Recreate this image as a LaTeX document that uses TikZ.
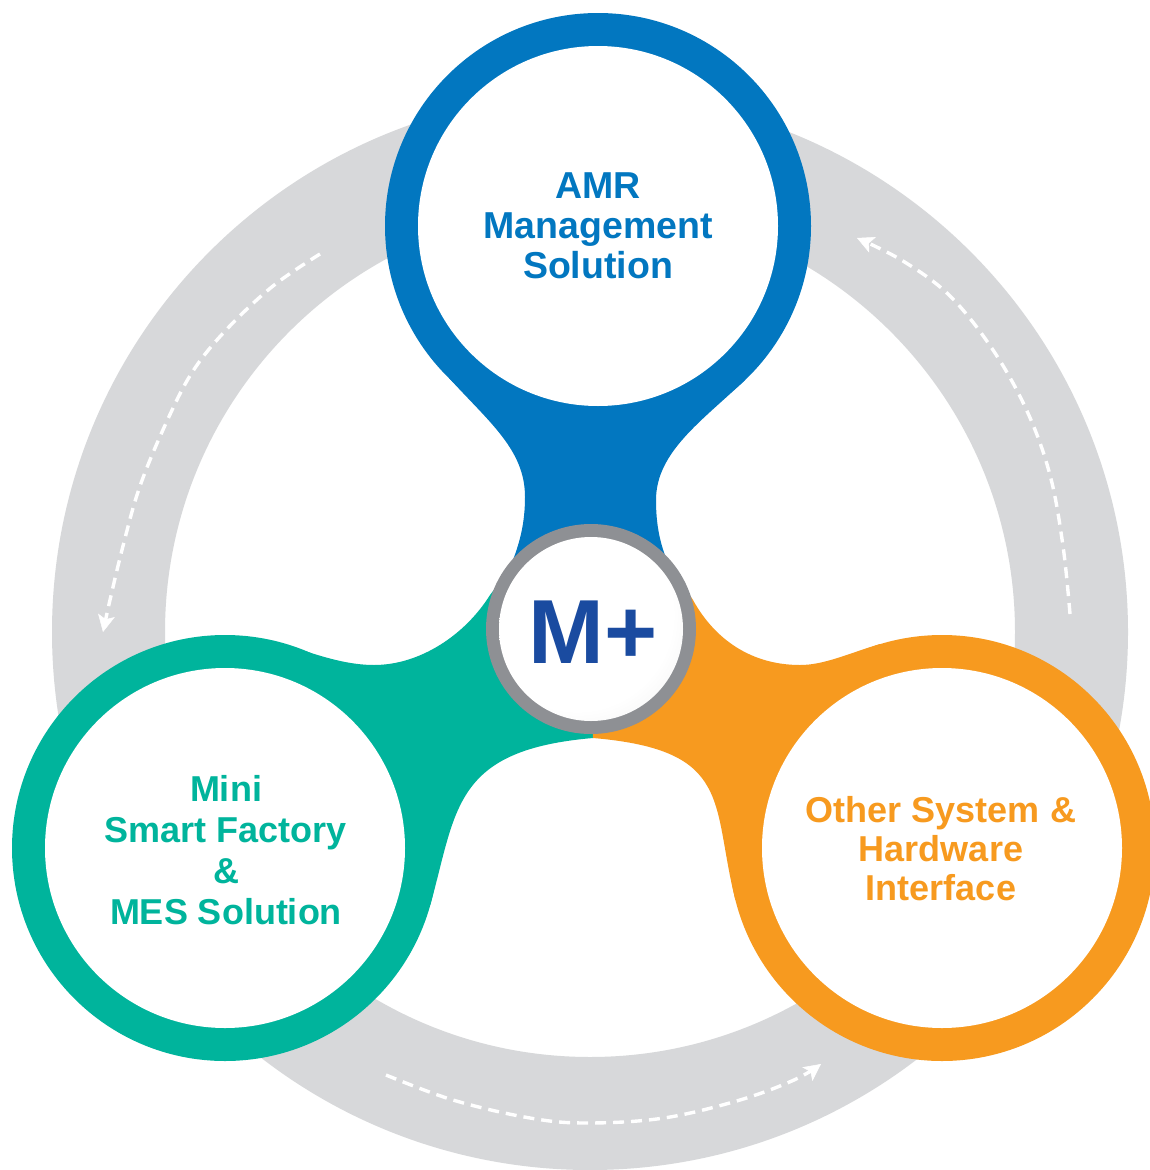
\documentclass[tikz,border=0pt]{standalone}
\usepackage{fontspec}
\setmainfont{Liberation Sans}
\usetikzlibrary{arrows.meta}
\definecolor{ringgray}{HTML}{D7D8DA}
\definecolor{amrblue}{HTML}{0277C0}
\definecolor{mesteal}{HTML}{00B49C}
\definecolor{othorange}{HTML}{F79A1F}
\definecolor{mgray}{HTML}{8E9094}
\definecolor{mblue}{HTML}{1A4BA0}
\pgfdeclareradialshading{mplusshade}{\pgfpoint{-8bp}{8bp}}{color(0bp)=(white); color(26bp)=(white); color(50bp)=(black!13)}
\begin{document}
\begin{tikzpicture}[x=1pt,y=-1pt,
  flow/.style={white, line width=3.4pt, dash pattern=on 11pt off 7pt,
    -{Stealth[length=17pt,width=17pt,inset=4pt,fill=white,line width=0.5pt]}},
  lbl/.style={anchor=base, font=\fontsize{36}{40}\selectfont\bfseries, inner sep=0pt},
]
\useasboundingbox (0,0) rectangle (1150,1170);
\fill[white] (0,0) rectangle (1150,1170);

% grey cycle ring
\fill[ringgray, even odd rule] (590,632) circle[radius=538pt] (590,632) circle[radius=425pt];

% dashed flow arrows
\draw[flow] plot[smooth, tension=0.6] coordinates {(320,254) (273,286) (227,329) (193,371) (167,421) (140,486) (123,546) (110,600) (103,632)};
\draw[flow] plot[smooth, tension=0.6] coordinates {(1070,614) (1063,546) (1050,475) (1027,411) (993,350) (950,296) (903,261) (857,238)};
\draw[flow] plot[smooth, tension=0.6] coordinates {(386,1075) (453,1100) (530,1118) (587,1123) (664,1118) (740,1100) (794,1080) (821,1064)};

% necks
\fill[amrblue] (449,378) .. controls (490,423) and (525,450) .. (525,497)
  .. controls (525,525) and (519,545) .. (511,565) -- (591,629) -- (669,565)
  .. controls (660,545) and (656,525) .. (656,500)
  .. controls (656,452) and (702,421) .. (745,380) -- (598,226) -- cycle;
\fill[mesteal] (293,647) .. controls (325,658) and (350,665) .. (374,665)
  .. controls (420,665) and (465,635) .. (490,595) -- (505,575) -- (591,629) -- (604,700) -- (593,738)
  .. controls (453,750) and (457,809) .. (430.3,904.9) -- (225,848) -- cycle;
\fill[othorange] (880,644) .. controls (847,654) and (824,665) .. (800,665)
  .. controls (752,665) and (715,640) .. (693,600) -- (680,580) -- (591,629) -- (593,738)
  .. controls (734,750) and (711,803) .. (735.4,900) -- (942,848) -- cycle;

% three rings
\fill[amrblue] (598,226) circle[radius=213pt];
\fill[white] (598,226) circle[radius=180pt];
\fill[mesteal] (225,848) circle[radius=213pt];
\fill[white] (225,848) circle[radius=180pt];
\fill[othorange] (942,848) circle[radius=213pt];
\fill[white] (942,848) circle[radius=180pt];

% centre M+ badge
\fill[mgray] (591,629) circle[radius=105pt];
\shade[shading=mplusshade] (591,629) circle[radius=92pt];
\node[font=\fontsize{91}{91}\selectfont\bfseries, text=mblue, anchor=base,
  inner sep=0pt] (mplus) at (593,663) {M+};

% labels
\node[lbl, text=amrblue, font=\fontsize{37.5}{40}\selectfont\bfseries] (amr1) at (598,198) {AMR};
\node[lbl, text=amrblue, font=\fontsize{37.5}{40}\selectfont\bfseries] (amr2) at (598,238) {Management};
\node[lbl, text=amrblue, font=\fontsize{37.5}{40}\selectfont\bfseries] (amr3) at (598,278) {Solution};

\node[lbl, text=mesteal] (mes1) at (226,801) {Mini};
\node[lbl, text=mesteal] (mes2) at (226,842) {Smart Factory};
\node[lbl, text=mesteal] (mes3) at (226,883) {\&};
\node[lbl, text=mesteal] (mes4) at (226,924) {MES Solution};

\node[lbl, text=othorange] (oth1) at (941,822) {Other System \&};
\node[lbl, text=othorange] (oth2) at (941,861) {Hardware};
\node[lbl, text=othorange] (oth3) at (941,900) {Interface};
\end{tikzpicture}
\end{document}
